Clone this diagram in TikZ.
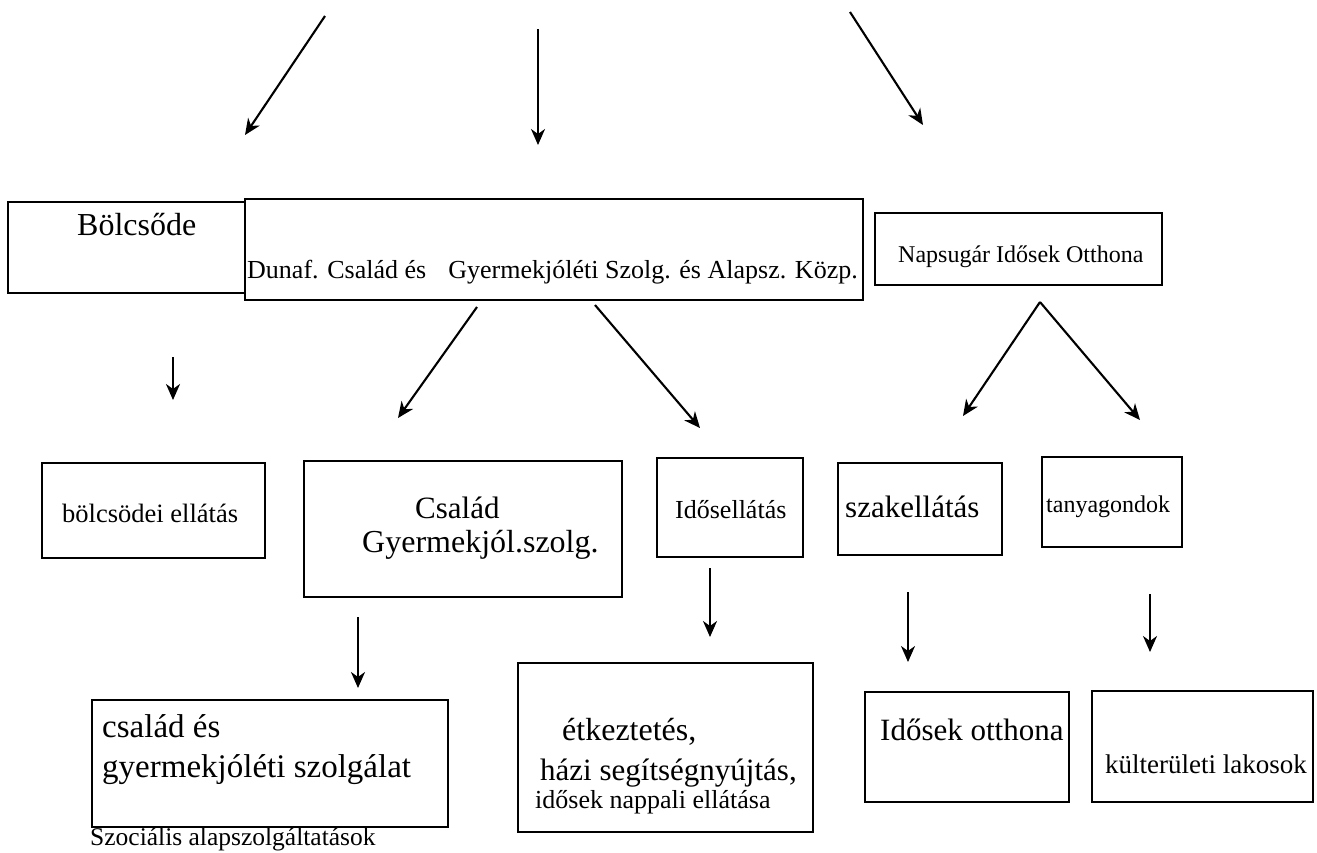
\documentclass[tikz,border=0pt]{standalone}
\usepackage{fontspec}
\setmainfont{Liberation Serif}
\usetikzlibrary{arrows.meta}
\newcommand{\setfs}[1]{\fontsize{#1}{#1}\selectfont}
\begin{document}
\begin{tikzpicture}[x=1pt,y=-1pt,
  box/.style={draw, line width=2.3pt, inner sep=0pt},
  arr/.style={line width=2.1pt, -{Stealth[length=16pt,width=14pt,inset=5pt]}},
  lbl/.style={anchor=base west, inner sep=0pt}]
\fill[white] (0,0) rectangle (1317,852);
\useasboundingbox (0,0) rectangle (1317,852);
% boxes
\node[box, minimum width=237pt, minimum height=91pt] (bol) at (126.5,247.5) {};
\node[box, minimum width=618pt, minimum height=101pt] (duna) at (554,249.5) {};
\node[box, minimum width=287pt, minimum height=72pt] (naps) at (1018.5,249) {};
\node[box, minimum width=223pt, minimum height=95pt] (bolell) at (153.5,510.5) {};
\node[box, minimum width=318pt, minimum height=136pt] (csal) at (463,529) {};
\node[box, minimum width=146pt, minimum height=99pt] (idos) at (730,507.5) {};
\node[box, minimum width=164pt, minimum height=92pt] (szak) at (920,509) {};
\node[box, minimum width=140pt, minimum height=90pt] (tanya) at (1112,502) {};
\node[box, minimum width=356pt, minimum height=127pt] (csales) at (270,763.5) {};
\node[box, minimum width=295pt, minimum height=169pt] (etk) at (665.5,747.5) {};
\node[box, minimum width=204pt, minimum height=110pt] (idotth) at (967,747) {};
\node[box, minimum width=221pt, minimum height=111pt] (kult) at (1202.5,746.5) {};
% texts
\node[lbl] (tbol) at (77,235) {\setfs{32}Bölcsőde};
\node[lbl] (tduna) at (247,278) {\setfs{26}Dunaf. Család és\hspace{0.85em}Gyermekjóléti Szolg. és Alapsz. Közp.};
\node[lbl] (tnaps) at (898,262) {\setfs{24}Napsugár Idősek Otthona};
\node[lbl] (tbolell) at (62,522) {\setfs{26.5}bölcsödei ellátás};
\node[lbl] (tcsal1) at (415,518) {\setfs{31}Család};
\node[lbl] (tcsal2) at (362,552) {\setfs{32}Gyermekjól.szolg.};
\node[lbl] (tidos) at (675,518) {\setfs{26}Idősellátás};
\node[lbl] (tszak) at (845,517) {\setfs{31}szakellátás};
\node[lbl] (ttanya) at (1046,512) {\setfs{24}tanyagondok};
\node[lbl] (tcsales1) at (102,737) {\setfs{33}család és};
\node[lbl] (tcsales2) at (102,777) {\setfs{33}gyermekjóléti szolgálat};
\node[lbl] (tszoc) at (90,845) {\setfs{25.5}Szociális alapszolgáltatások};
\node[lbl] (tetk1) at (562,740) {\setfs{32}étkeztetés,};
\node[lbl] (tetk2) at (540,780) {\setfs{31}házi segítségnyújtás,};
\node[lbl] (tetk3) at (535,808) {\setfs{26}idősek nappali ellátása};
\node[lbl] (tidotth) at (880,740) {\setfs{31}Idősek otthona};
\node[lbl] (tkult) at (1105,773) {\setfs{27}külterületi lakosok};
% arrow end points
\coordinate (a1s) at (325,16);   \coordinate (a1e) at (245,135);
\coordinate (a2s) at (538,29);   \coordinate (a2e) at (538,145);
\coordinate (a3s) at (850,12);   \coordinate (a3e) at (923,125);
\coordinate (a4s) at (173,357);  \coordinate (a4e) at (173,400);
\coordinate (a5s) at (477,307);  \coordinate (a5e) at (398,418);
\coordinate (a6s) at (595,305);  \coordinate (a6e) at (700,428);
\coordinate (a7s) at (1040,302); \coordinate (a7e) at (963,416);
\coordinate (a8e) at (1140,420);
\coordinate (a9s) at (358,617);  \coordinate (a9e) at (358,688);
\coordinate (a10s) at (710,568); \coordinate (a10e) at (710,637);
\coordinate (a11s) at (908,592); \coordinate (a11e) at (908,662);
\coordinate (a12s) at (1150,594);\coordinate (a12e) at (1150,652);
\draw[arr] (a1s) -- (a1e);
\draw[arr] (a2s) -- (a2e);
\draw[arr] (a3s) -- (a3e);
\draw[arr] (a4s) -- (a4e);
\draw[arr] (a5s) -- (a5e);
\draw[arr] (a6s) -- (a6e);
\draw[arr] (a7s) -- (a7e);
\draw[arr] (a7s) -- (a8e);
\draw[arr] (a9s) -- (a9e);
\draw[arr] (a10s) -- (a10e);
\draw[arr] (a11s) -- (a11e);
\draw[arr] (a12s) -- (a12e);
\end{tikzpicture}
\end{document}
